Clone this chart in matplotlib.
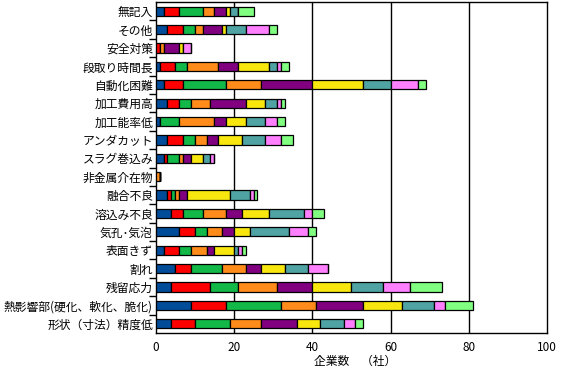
import matplotlib
matplotlib.use('Agg')
from matplotlib import pyplot as plt
import numpy as np

plt.rcParams['font.family'] = ['Noto Sans CJK JP', 'DejaVu Sans']

# 上から順
categories = ['無記入', 'その他', '安全対策', '段取り時間長', '自動化困難', '加工費用高',
              '加工能率低', 'アンダカット', 'スラグ巻込み', '非金属介在物', '融合不良',
              '溶込み不良', '気孔･気泡', '表面きず', '割れ', '残留応力',
              '熱影響部(硬化、軟化、脆化)', '形状（寸法）精度低']

s1 = [2, 3, 0, 1, 2, 3, 1, 3, 2, 0, 3, 4, 6, 2, 5, 4, 9, 4]
s2 = [4, 4, 1, 4, 5, 3, 0, 4, 1, 0, 1, 3, 4, 4, 4, 10, 9, 6]
s3 = [6, 3, 0, 3, 11, 3, 5, 3, 3, 0, 1, 5, 3, 3, 8, 7, 14, 9]
s4 = [3, 2, 1, 8, 9, 5, 9, 3, 1, 1, 1, 6, 4, 4, 6, 10, 9, 8]
s5 = [3, 5, 4, 5, 13, 9, 3, 3, 2, 0, 2, 4, 3, 2, 4, 9, 12, 9]
s6 = [1, 1, 1, 8, 13, 5, 5, 6, 3, 0, 11, 7, 4, 5, 6, 10, 10, 6]
s7 = [2, 5, 0, 2, 7, 3, 5, 6, 2, 0, 5, 9, 10, 1, 6, 8, 8, 6]
s8 = [0, 6, 2, 1, 7, 1, 3, 4, 1, 0, 1, 2, 5, 1, 5, 7, 3, 3]
s9 = [4, 2, 0, 2, 2, 1, 2, 3, 0, 0, 1, 3, 2, 1, 0, 8, 7, 2]

series = [s1, s2, s3, s4, s5, s6, s7, s8, s9]
colors = ['#004C99', '#FF0000', '#12B948', '#FF8C1A', '#800080',
          '#F8E70F', '#50A3A3', '#FF80FF', '#80FF80']

fig = plt.figure(figsize=(5.61, 3.71), dpi=100)
ax = fig.add_axes([0.2775, 0.1024, 0.698, 0.8922])

y = np.arange(len(categories))
left = np.zeros(len(categories))
for vals, c in zip(series, colors):
    vals = np.array(vals, dtype=float)
    ax.barh(y, vals, left=left, height=0.5, color=c, edgecolor='black',
            linewidth=0.9, zorder=3)
    left += vals

ax.set_xlim(0, 100)
ax.set_ylim(len(categories) - 0.5, -0.5)
ax.set_xticks([0, 20, 40, 60, 80, 100])
ax.tick_params(axis='x', length=0, pad=6, labelsize=8.5)
ax.set_yticks(y)
ax.set_yticklabels(categories)
ax.tick_params(axis='y', which='major', length=0, pad=2, labelsize=8.5)
ax.set_yticks(np.arange(0.5, len(categories) - 1, 1.0), minor=True)
ax.tick_params(axis='y', which='minor', length=5, width=1, color='black')

for gx in [20, 40, 60, 80]:
    ax.axvline(gx, color='black', linewidth=1.0, zorder=1)

for sp in ax.spines.values():
    sp.set_color('black')
    sp.set_linewidth(1.0)

ax.set_xlabel('企業数　（社）', fontsize=8.5)
ax.xaxis.set_label_coords(0.51, -0.066)

fig.savefig('out.png', dpi=100)
